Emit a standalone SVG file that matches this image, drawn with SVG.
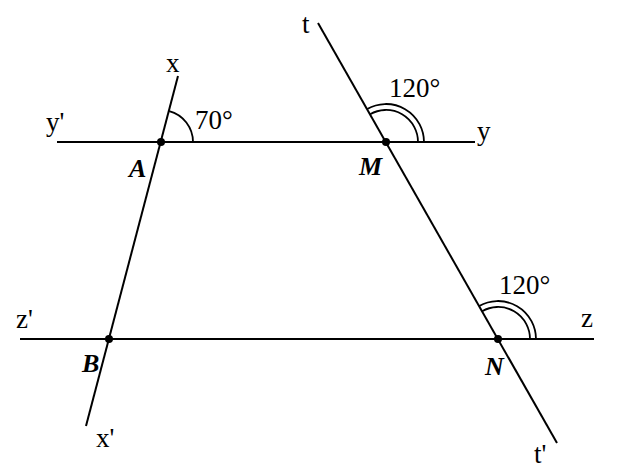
<svg xmlns="http://www.w3.org/2000/svg" width="618" height="474" viewBox="0 0 618 474">
<style>
.ln{stroke:#000;stroke-width:2;fill:none}
.arc{stroke:#000;stroke-width:1.8;fill:none}
.lb{font-family:"Liberation Serif","Times New Roman",serif;font-size:27px;fill:#000}
.pt{font-family:"Liberation Serif","Times New Roman",serif;font-size:26px;font-style:italic;font-weight:bold;fill:#000}
.dot{fill:#000}
</style>
<rect width="618" height="474" fill="#fff"/>
<g id="connectors">
<line class="ln" x1="57" y1="142" x2="475" y2="142"/>
<line class="ln" x1="20" y1="339" x2="594" y2="339"/>
<line class="ln" x1="178" y1="76" x2="86" y2="426"/>
<line class="ln" x1="318" y1="23" x2="557" y2="443"/>
</g>
<g id="angles">
<path class="arc" d="M193 142 A32 32 0 0 0 169.2 111.1"/>
<path class="arc" d="M424 142 A38 38 0 0 0 367.2 109"/>
<path class="arc" d="M418 142 A32 32 0 0 0 370.1 114.2"/>
<path class="arc" d="M536 339 A38 38 0 0 0 479.2 306"/>
<path class="arc" d="M530 339 A32 32 0 0 0 482.1 311.2"/>
<text class="lb" x="195" y="129">70°</text>
<text class="lb" x="389" y="97">120°</text>
<text class="lb" x="499" y="294">120°</text>
</g>
<g id="node-A"><circle class="dot" cx="161" cy="142" r="4"/><text class="pt" x="129" y="177">A</text></g>
<g id="node-M"><circle class="dot" cx="386" cy="142" r="4"/><text class="pt" x="359" y="175">M</text></g>
<g id="node-B"><circle class="dot" cx="109" cy="339" r="4"/><text class="pt" x="82" y="372">B</text></g>
<g id="node-N"><circle class="dot" cx="498" cy="339" r="4"/><text class="pt" x="485" y="375">N</text></g>
<g id="ray-labels">
<text class="lb" x="166" y="72">x</text>
<text class="lb" x="96" y="447">x'</text>
<text class="lb" x="46" y="131">y'</text>
<text class="lb" x="477" y="140">y</text>
<text class="lb" x="16" y="328">z'</text>
<text class="lb" x="581" y="327">z</text>
<text class="lb" x="302" y="33">t</text>
<text class="lb" x="534" y="463">t'</text>
</g>
</svg>
